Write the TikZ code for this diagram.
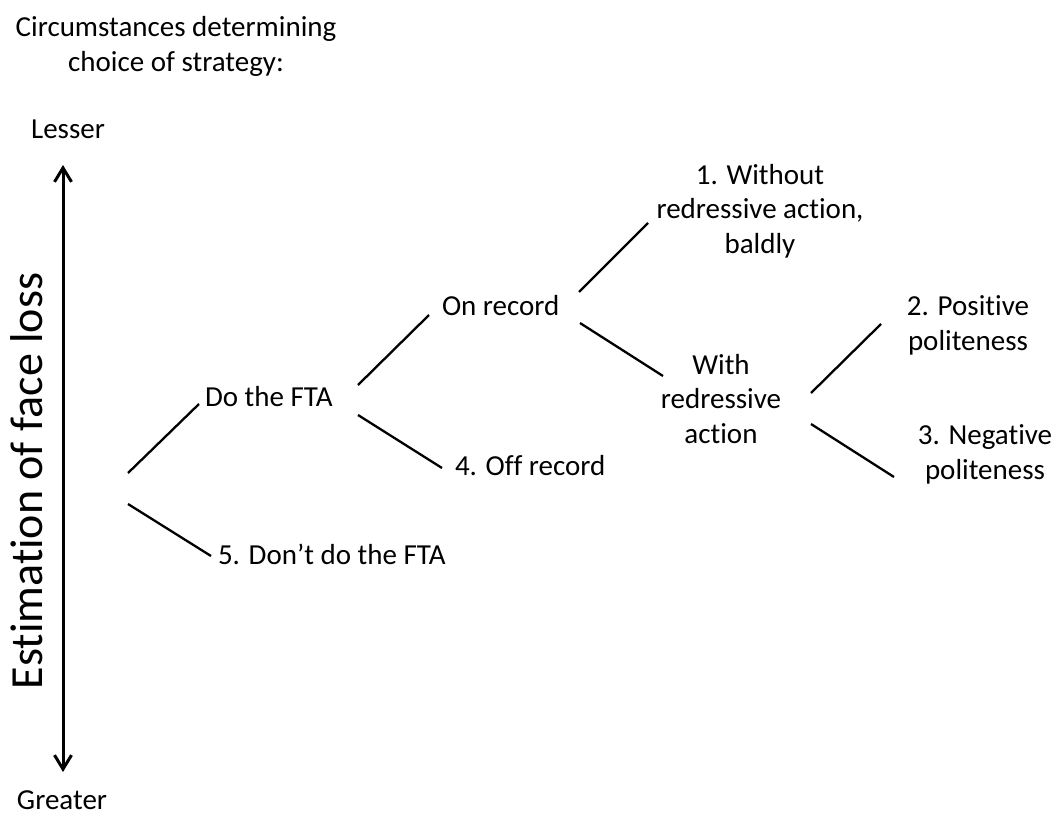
\documentclass[tikz,border=0pt]{standalone}
\usepackage{fontspec}
\setmainfont{Carlito}[Ligatures={NoCommon}]
\usetikzlibrary{arrows.meta,calc}
\tikzset{
  lbl/.style={inner sep=0pt, outer sep=0pt, anchor=base, align=center,
    font=\fontsize{29}{34.5}\selectfont},
  branch/.style={line width=2.3pt, black},
  axis/.style={line width=3pt, black,
    {Straight Barb[length=14pt,width=17pt,line width=3pt]}-{Straight Barb[length=14pt,width=17pt,line width=3pt]}}
}
\begin{document}
\begin{tikzpicture}[x=1pt,y=-1pt]
\useasboundingbox (0,0) rectangle (1057,816);
% headings and axis
\node[lbl] (title) at (176,71) {Circumstances determining\\choice of strategy:};
\node[lbl] (lesser) at (68,138) {Lesser};
\node[lbl] (greater) at (62,809) {Greater};
\node[lbl, rotate=90, font=\fontsize{46}{52}\selectfont] (est) at (42,481) {Estimation of face loss};
\coordinate (axtop) at (63,165);
\coordinate (axbot) at (63,772);
\draw[axis] (axbot) -- (axtop);
% tree nodes
\coordinate (root) at (128,488);
\node[lbl, anchor=base west] (dothe) at (205,406) {Do the FTA};
\node[lbl, anchor=base west] (dont) at (218,564) {5. Don’t do the FTA};
\node[lbl, anchor=base west] (onrec) at (442,315) {On record};
\node[lbl, anchor=base west] (offrec) at (455,475) {4. Off record};
\node[lbl] (bald) at (760,253) {1. Without\\redressive action,\\baldly};
\node[lbl] (with) at (721,443) {With\\redressive\\action};
\node[lbl] (pos) at (968,350) {2. Positive\\politeness};
\node[lbl] (neg) at (985,479) {3. Negative\\politeness};
% connectors
\draw[branch] ($(root)+(0,-15)$) -- ($(dothe.base west)+(-6,-2)$);
\draw[branch] ($(root)+(0,16)$) -- ($(dont.base west)+(-7,-8)$);
\draw[branch] ($(dothe.base west)+(153,-21)$) -- ($(onrec.base west)+(-13,0)$);
\draw[branch] ($(dothe.base west)+(153,9)$) -- ($(offrec.base west)+(-13,-7)$);
\draw[branch] ($(onrec.base west)+(137,-23)$) -- ($(bald.base)+(-112,-30)$);
\draw[branch] ($(onrec.base west)+(138,8)$) -- ($(with.base)+(-58,-67)$);
\draw[branch] ($(with.base)+(90,-50)$) -- ($(pos.base)+(-87,-26)$);
\draw[branch] ($(with.base)+(90,-19)$) -- ($(neg.base)+(-91,-2)$);
\end{tikzpicture}
\end{document}
